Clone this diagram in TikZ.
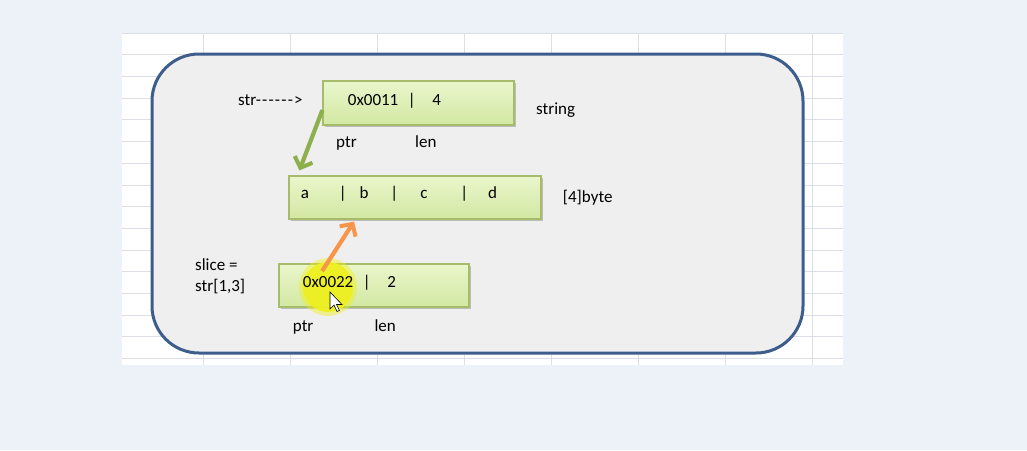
\documentclass[tikz,border=0pt]{standalone}
\usepackage{fontspec}
\setmainfont{Carlito}
\usetikzlibrary{arrows.meta,shadows}
\definecolor{bgblue}{HTML}{EDF1F8}
\definecolor{gridgray}{HTML}{DCDFE5}
\definecolor{framefill}{HTML}{EFEFEF}
\definecolor{frameblue}{HTML}{3D5D8C}
\definecolor{celltop}{HTML}{EAF6CC}
\definecolor{cellbot}{HTML}{D2E8A2}
\definecolor{celledge}{HTML}{A6BC6A}
\definecolor{ptrgreen}{HTML}{8EB04C}
\definecolor{ptrorange}{HTML}{F7964A}
\definecolor{hilite}{HTML}{EFF01E}
\tikzset{
  cell/.style={draw=celledge,line width=1.2pt,top color=celltop,bottom color=cellbot,inner sep=0pt,
    drop shadow={shadow xshift=1.5pt,shadow yshift=-1.5pt,opacity=.3,fill=black!70}},
  lbl/.style={inner sep=0pt,anchor=base west,font=\fontsize{17}{20}\selectfont,text=black},
  mid/.style={lbl,anchor=base},
  gridline/.style={gridgray,line width=.8pt},
  ptrarrow/.style={line width=4.2pt,-{Straight Barb[length=9pt,width=19pt,line width=4pt]}}
}
\newcommand{\dsh}{-\kern1.2pt}
\begin{document}
\begin{tikzpicture}[x=1pt,y=-1pt]
\useasboundingbox (0,0) rectangle (1027,450);
\fill[bgblue] (0,0) rectangle (1027,450);
\fill[white] (122,33) rectangle (843,365);
\foreach \k in {0,...,15}
  \draw[gridline] (122,33+21.7*\k) -- (843,33+21.7*\k);
\foreach \k in {0,...,7}
  \draw[gridline] (203+87*\k,33) -- (203+87*\k,365);
\draw[frameblue,line width=3pt,fill=framefill,rounded corners=47pt] (152,54) rectangle (803,353);

\node[cell,minimum width=191pt,minimum height=44pt] (strbox) at (418.5,103) {};
\node[cell,minimum width=252pt,minimum height=43pt] (bytes) at (415,197.5) {};
\node[cell,minimum width=190pt,minimum height=43pt] (slicebox) at (374,285.5) {};
\fill[hilite,opacity=.45] (328,287) circle (29);
\fill[hilite,opacity=.9] (328,287) circle (25);

\node[lbl] (strname) at (238,105) {str\dsh\dsh\dsh\dsh\dsh\dsh>};
\node[lbl] (strptr) at (347.7,105.5) {0x0011};
\node[mid] (strbar) at (411.7,105.5) {|};
\node[mid] (strlen) at (436.7,105.5) {4};
\node[lbl] (strtype) at (536,114) {string};
\node[lbl] (strptrlbl) at (336,147) {ptr};
\node[lbl] (strlenlbl) at (415,147) {len};

\node[mid] (ba) at (305,198.5) {a};
\node[mid] (bar1) at (342.7,198.5) {|};
\node[mid] (bb) at (364,198.5) {b};
\node[mid] (bar2) at (394.3,198.5) {|};
\node[mid] (bc) at (424,198.5) {c};
\node[mid] (bar3) at (464.3,198.5) {|};
\node[mid] (bd) at (492.7,198.5) {d};
\node[lbl] (bytetype) at (562.7,202) {[4]byte};

\node[lbl] (slicename) at (195,270.5) {slice =};
\node[lbl] (sliceexpr) at (195,291) {str[1,3]};
\node[lbl] (sptr) at (302.7,287.3) {0x0022};
\node[mid] (sbar) at (366.7,287.3) {|};
\node[mid] (slen) at (391.7,287.3) {2};
\node[lbl] (sptrlbl) at (292.7,331.5) {ptr};
\node[lbl] (slenlbl) at (374.3,331.5) {len};

\draw[ptrarrow,ptrgreen] ([yshift=-7pt]strbox.west) -- ([shift={(11pt,5pt)}]bytes.north west);
\draw[ptrarrow,ptrorange] ([shift={(-6pt,5pt)}]sptr.north) -- ([shift={(-61pt,-2pt)}]bytes.south);

\draw[fill=white,line width=.6pt,shift={(330,292)}] (0,0) -- (0,17) -- (4,13) -- (7,19.5) -- (9.5,18.5) -- (6.5,12.5) -- (12,12.5) -- cycle;
\end{tikzpicture}
\end{document}
